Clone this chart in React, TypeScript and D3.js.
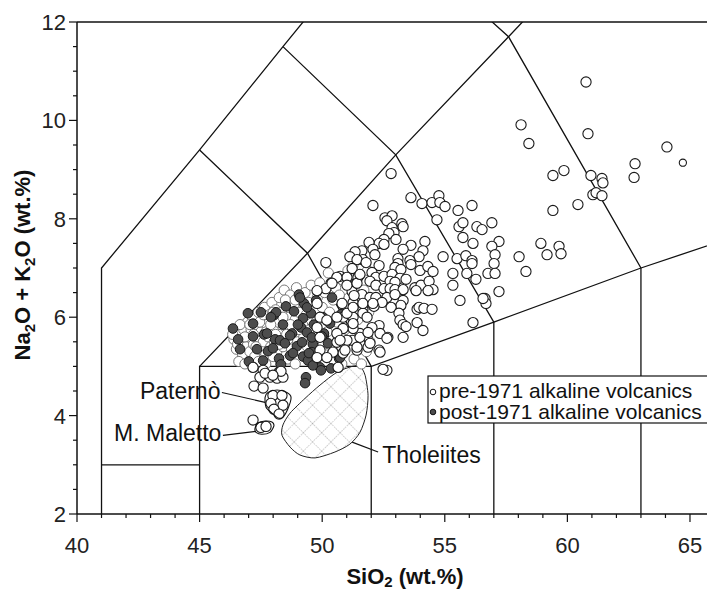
import React from 'react';
import * as d3 from 'd3';

type P = [number, number];

const xTicks = [40, 45, 50, 55, 60, 65];
const yTicks = [2, 4, 6, 8, 10, 12];

// TAS field boundaries (SiO2, Na2O+K2O)
const boundaries: P[][] = [
  [[41, 2], [41, 7], [45, 9.4], [48.4, 11.5], [52.5, 14]],
  [[41, 3], [45, 3]],
  [[45, 2], [45, 5], [52, 5]],
  [[45, 5], [49.4, 7.3], [53, 9.3], [57.6, 11.7], [61, 13.5]],
  [[52, 2], [52, 5], [57, 5.9], [63, 7], [69, 8]],
  [[57, 2], [57, 5.9]],
  [[63, 2], [63, 7]],
  [[45, 9.4], [49.4, 7.3], [52, 5]],
  [[48.4, 11.5], [53, 9.3], [57, 5.9]],
  [[52.5, 14], [57.6, 11.7], [63, 7]],
];

// dense core of pre-1971 samples
const preCore: P[] = [
  [46.4,5.55],[46.5,5.35],[46.6,5.7],[46.7,5.5],[46.75,5.25],[46.8,5.75],[46.9,5.4],[46.95,5.9],[47.0,5.6],[47.05,5.3],
  [47.1,5.75],[47.15,6.0],[47.2,5.45],[47.25,5.2],[47.3,5.85],[47.35,5.6],[47.4,6.1],[47.45,5.35],[47.5,5.7],[47.55,5.95],
  [47.6,5.5],[47.65,6.2],[47.7,5.25],[47.75,5.85],[47.8,5.6],[47.85,6.05],[47.9,5.4],[47.95,6.3],[48.0,5.75],[48.05,5.5],
  [48.1,6.15],[48.15,5.3],[48.2,5.9],[48.25,6.4],[48.3,5.65],[48.35,6.1],[48.4,5.4],[48.45,6.55],[48.5,5.8],[48.55,6.25],
  [48.6,5.55],[48.65,6.0],[48.7,6.45],[48.75,5.35],[48.8,5.7],[48.85,6.2],[48.9,5.95],[48.95,6.6],[49.0,5.5],[49.05,6.1],
  [49.1,5.3],[49.15,6.35],[49.2,5.85],[49.25,5.6],[49.3,6.5],[49.35,6.05],[49.4,5.4],[49.45,6.3],[49.5,5.75],[49.55,6.65],
  [49.6,5.55],[49.7,6.15],[49.75,5.9],[49.8,6.4],[49.85,5.25],[49.9,6.7],[50.0,6.2],[50.05,5.45],[50.1,6.5],[50.2,5.7],
  [50.25,6.9],[50.3,6.1],[50.4,5.35],[50.45,6.35],[50.5,5.1],[50.55,6.6],[50.6,5.9],[50.7,6.45],[50.8,5.05],[50.85,6.75],
  [50.9,6.25],[51.0,5.75],[51.05,6.95],[51.1,6.4],[51.2,5.6],[51.25,7.05],[51.3,5.15],[51.35,6.6],[51.45,5.95],[51.5,6.85],
  [51.6,5.05],[51.7,6.55],[51.8,5.3],[51.85,6.95],[51.9,6.1],[51.95,5.5],
  [46.6,5.1],[46.85,5.05],[47.1,5.05],[47.4,5.1],[47.7,5.05],[48.0,5.2],[48.3,5.05],[48.6,5.15],[48.9,5.05],
  [46.35,5.65],[46.55,5.45],[46.65,5.85],[46.85,5.6],[47.05,5.85],[47.2,5.65],[47.3,5.4],[47.45,5.9],[47.6,6.05],[47.7,5.7],
  [47.9,5.85],[48.0,6.1],[48.1,5.65],[48.25,5.45],[48.4,6.0],[48.5,6.35],[48.55,5.65],[48.7,5.85],[48.9,6.35],[49.05,5.75],
];

// other pre-1971 samples
const preData: P[] = [
  [60.76,10.78],[60.84,9.73],[64.06,9.46],[64.71,9.14],[62.76,9.12],[62.72,8.84],[58.11,9.91],[58.43,9.53],[59.86,8.98],
  [59.41,8.88],[60.96,8.88],[61.41,8.82],[61.45,8.73],[61.04,8.49],[61.17,8.53],[61.41,8.47],[60.43,8.29],[59.41,8.17],
  [58.03,7.23],[58.31,6.93],[58.92,7.5],[59.17,7.27],[59.66,7.44],[59.74,7.29],
  [52.81,8.92],[52.07,8.27],[53.62,8.43],[54.07,8.31],[54.48,8.33],[54.76,8.47],[54.8,8.33],[55.01,8.25],[55.54,8.17],
  [56.11,8.27],[54.68,7.98],[55.58,7.84],[55.74,7.92],[56.31,7.84],[56.52,7.78],[56.92,7.92],[55.74,7.62],[56.15,7.5],
  [57.21,7.54],[56.92,7.44],[57.05,7.27],[57.01,7.09],[56.76,6.89],[57.05,6.89],[54.93,7.23],[55.5,7.19],[55.86,7.25],
  [56.11,7.15],[56.11,7.09],[55.33,6.89],[55.9,6.89],[56.27,6.77],[55.33,6.65],[57.21,6.52],[55.62,6.34],[56.64,6.38],
  [56.68,6.28],[56.15,5.89],[56.56,6.38],
  [52.56,8.02],[52.85,8.06],[52.64,7.96],[53.25,7.9],[53.3,7.84],[52.85,7.82],[52.93,7.72],[52.72,7.7],[52.52,7.58],
  [53.01,7.58],[54.19,7.54],[53.62,7.46],[52.32,7.5],[51.91,7.52],[52.52,7.48],[53.3,7.38],[51.62,7.35],[51.34,7.33],
  [52.07,7.38],[52.15,7.27],[54.11,7.35],[53.95,7.23],[53.58,7.15],[53.09,7.19],[53.09,7.09],
  [50.15,7.11],[51.13,7.23],[51.66,7.17],[51.42,7.17],[51.22,6.99],[51.79,7.11],[52.32,7.05],[52.97,7.01],[53.21,6.97],
  [53.62,7.07],[53.99,6.95],[54.31,7.03],[54.52,6.93],[50.73,6.83],[51.01,6.81],[51.46,6.81],[52.03,6.91],[52.19,6.81],
  [52.52,6.83],[52.85,6.87],[53.17,6.79],[53.42,6.77],[52.77,6.73],[52.97,6.71],[51.95,6.73],[52.19,6.65],[52.52,6.58],
  [52.77,6.58],[52.97,6.56],[53.3,6.56],[53.78,6.6],[54.03,6.65],[54.36,6.73],[54.52,6.56],[54.32,6.54],[53.83,6.54],
  [50.36,6.69],[50.15,6.58],[51.22,6.52],[51.62,6.46],[51.95,6.4],[52.19,6.4],[52.64,6.4],[52.97,6.46],[53.3,6.34],
  [53.21,6.24],[52.44,6.3],[52.81,6.2],[52.11,6.22],[51.66,6.16],[51.26,6.3],[51.3,6.44],[53.87,6.16],[53.95,6.2],
  [54.15,6.18],[54.48,6.16],[53.87,5.89],[54.11,5.73],[53.13,6.08],[53.17,5.94],[53.3,5.85],[53.42,5.81],[53.3,5.59],
  [52.68,5.59],[52.32,5.83],[52.03,5.79],[51.83,5.59],[51.54,5.67],[51.26,5.77],[50.85,6.0],[51.26,6.0],[51.66,6.08],
  [50.81,6.28],[51.54,5.47],[51.22,5.53],[50.93,5.47],[50.6,5.49],[51.87,5.39],[52.32,5.33],[52.36,5.67],[52.64,5.57],
  [51.95,5.47],[51.42,5.33],[50.85,5.27],[52.36,5.29],[52.64,4.92],[52.48,4.94],
  [49.79,6.54],[50.6,6.81],[50.4,6.69],[51.01,6.65],[51.42,6.69],[51.54,6.87],[49.79,6.28],[49.91,6.0],[50.19,5.94],
  [50.6,6.0],[51.01,6.08],[51.26,6.2],[51.66,6.28],[52.07,6.28],[51.83,6.0],[51.26,5.87],[50.85,5.77],[50.6,5.67],
  [51.01,5.53],[51.54,5.59],[51.87,5.69],[51.42,5.39],[50.93,5.33],[50.44,5.29],[49.91,5.33],[49.79,5.18],[50.19,5.18],
  [50.65,4.98],[49.91,5.59],[49.79,5.79],[50.73,5.53],
  [47.18,4.98],[47.59,4.92],[47.87,4.78],[47.46,4.78],[48.16,4.76],[48.4,4.78],[48.32,4.9],[47.22,4.6],[47.59,4.56],
  [47.67,4.86],[47.99,4.82],
  [47.99,4.41],[48.36,4.41],[47.91,4.25],[48.4,4.21],[48.03,4.13],[48.24,4.03],
  [47.18,3.91],[47.5,3.76],[47.71,3.78],
];

// post-1971 samples
const postData: P[] = [
  [50.4,6.4],[50.77,6.06],[50.32,5.87],[50.07,5.63],
  [49.05,6.46],[49.26,6.28],[49.54,6.08],[48.52,6.22],[48.85,6.12],[49.22,5.98],[49.14,5.79],[49.38,5.69],[50.07,5.67],
  [50.24,5.47],[49.62,5.45],[49.58,5.59],[48.97,5.41],[49.22,5.2],[48.69,5.22],[49.42,5.12],[49.91,4.98],[50.36,4.96],
  [50.69,5.16],[48.24,5.16],[47.79,5.31],[47.34,5.35],[47.01,5.1],[46.65,5.35],[46.36,5.77],[46.97,6.08],[47.5,6.1],
  [48.03,6.04],[48.4,5.85],[47.63,5.65],[47.18,5.61],[48.08,5.55],[48.77,5.67],[49.09,6.4],[48.24,4.9],[49.34,4.78],
  [49.3,4.66],[51.13,6.69],[48.12,6.1],[47.59,5.12],[47.99,5.37],[48.32,5.04],[48.81,5.27],[49.58,5.29],[50.73,5.18],
  [49.38,6.2],[49.75,6.34],[49.66,5.85],[49.99,5.61],[50.03,6.0],[49.01,5.85],[48.69,5.63],[48.28,5.53],[47.75,5.67],
  [48.48,5.47],[49.18,5.49],[47.18,5.87],[47.91,6.0],[46.57,5.55],[49.95,4.92],[49.62,5.02],[49.46,5.27],
];

const tholeiites: P[] = [
  [51.22,5.0],[51.54,5.0],[51.75,4.82],[51.87,4.41],[51.79,4.01],[51.54,3.66],[51.13,3.42],[50.52,3.26],[49.71,3.14],
  [49.09,3.2],[48.69,3.36],[48.36,3.6],[48.4,3.81],[48.69,4.05],[49.3,4.35],[49.91,4.62],[50.6,4.88],
];
const paterno: P[] = [
  [47.67,4.37],[47.79,4.47],[48.16,4.52],[48.56,4.47],[48.73,4.37],[48.61,4.15],[48.4,3.97],[48.2,3.95],[47.95,4.05],[47.71,4.17],
];
const maletto: P[] = [
  [47.26,3.74],[47.38,3.85],[47.67,3.89],[47.95,3.87],[48.03,3.79],[47.87,3.66],[47.54,3.62],[47.3,3.66],
];
const leaders: P[][] = [
  [[45.91,4.47],[47.67,4.27]],
  [[45.95,3.6],[47.3,3.68]],
  [[51.22,3.46],[52.28,3.26]],
];

const FONT = "'Liberation Sans', Arial, Helvetica, sans-serif";

export default function App() {
  const W = 707, H = 591;
  const x = d3.scaleLinear().domain([40, 66]).range([77, 714.5]);
  const y = d3.scaleLinear().domain([2, 12]).range([514, 22]);
  const line = d3.line<P>().x(d => x(d[0])).y(d => y(d[1]));
  const blob = d3.line<P>().x(d => x(d[0])).y(d => y(d[1])).curve(d3.curveCardinalClosed.tension(0.2));
  const xMinor = d3.range(40, 67, 1);
  const yMinor = d3.range(2, 12.01, 0.5);
  const r = 5.1;
  return (
    <svg width={W} height={H} style={{ position: 'absolute', left: 0, top: 0, background: '#fff' }} fontFamily={FONT}>
      <defs>
        <clipPath id="plot"><rect x={77} y={22} width={640} height={492} /></clipPath>
        <pattern id="hatch" width={13} height={13} patternUnits="userSpaceOnUse" patternTransform="rotate(45)">
          <line x1={0} y1={0} x2={13} y2={0} stroke="#8a8a8a" strokeWidth={0.9} strokeDasharray="1.5,1" />
          <line x1={0} y1={0} x2={0} y2={13} stroke="#8a8a8a" strokeWidth={0.9} strokeDasharray="1.5,1" />
        </pattern>
      </defs>
      <rect x={0} y={0} width={W} height={H} fill="#fff" />
      <g clipPath="url(#plot)">
        {boundaries.map((b, i) => (
          <path key={i} d={line(b) || ''} fill="none" stroke="#111" strokeWidth={1.3} />
        ))}
        <path d={blob(tholeiites) || ''} fill="url(#hatch)" stroke="#222" strokeWidth={1} />
        {preCore.map((d, i) => (
          <circle key={'c' + i} cx={x(d[0])} cy={y(d[1])} r={r} fill="#fff" stroke="#6a6a6a" strokeWidth={0.9} />
        ))}
        {postData.map((d, i) => (
          <circle key={'q' + i} cx={x(d[0])} cy={y(d[1])} r={r - 0.3} fill="#4d4d4d" stroke="#1a1a1a" strokeWidth={1} />
        ))}
        {preData.map((d, i) => (
          <circle key={'p' + i} cx={x(d[0])} cy={y(d[1])} r={d[0] > 64.5 ? 3.6 : r} fill="#fff" stroke="#1a1a1a" strokeWidth={1.1} />
        ))}
        <path d={blob(paterno) || ''} fill="none" stroke="#111" strokeWidth={1.1} />
        <path d={blob(maletto) || ''} fill="none" stroke="#111" strokeWidth={1.1} />
        {leaders.map((l, i) => (
          <path key={'l' + i} d={line(l) || ''} fill="none" stroke="#111" strokeWidth={1.2} />
        ))}
      </g>
      {/* frame */}
      <line x1={77} y1={22} x2={W} y2={22} stroke="#111" strokeWidth={1.5} />
      <line x1={77} y1={22} x2={77} y2={514} stroke="#111" strokeWidth={1.5} />
      <line x1={77} y1={514} x2={W} y2={514} stroke="#111" strokeWidth={1.5} />
      {/* ticks */}
      {xMinor.map(v => (
        <line key={'xm' + v} x1={x(v)} x2={x(v)} y1={514} y2={514 + (v % 5 === 0 ? 8 : 4)} stroke="#111" strokeWidth={1.2} />
      ))}
      {yMinor.map(v => (
        <line key={'ym' + v} x1={77} x2={77 - (v % 2 === 0 ? 8 : 4)} y1={y(v)} y2={y(v)} stroke="#111" strokeWidth={1.2} />
      ))}
      {xTicks.map(v => (
        <text key={'xt' + v} x={x(v)} y={553} textAnchor="middle" fontSize={22} fill="#222">{v}</text>
      ))}
      {yTicks.map(v => (
        <text key={'yt' + v} x={66} y={y(v) + 8} textAnchor="end" fontSize={22} fill="#222">{v}</text>
      ))}
      {/* axis titles */}
      <text x={405} y={584} textAnchor="middle" fontSize={22} fontWeight="bold" fill="#111">
        SiO<tspan dy={3} fontSize={15}>2</tspan><tspan dy={-3}> (wt.%)</tspan>
      </text>
      <text transform="translate(30,265) rotate(-90)" textAnchor="middle" fontSize={22} fontWeight="bold" fill="#111">
        Na<tspan dy={5} fontSize={15}>2</tspan><tspan dy={-5}>O + K</tspan><tspan dy={5} fontSize={15}>2</tspan><tspan dy={-5}>O (wt.%)</tspan>
      </text>
      {/* labels */}
      <text x={x(45.85)} y={y(4.33)} textAnchor="end" fontSize={23} fill="#111">Paternò</text>
      <text x={x(45.89)} y={y(3.48)} textAnchor="end" fontSize={23} fill="#111">M. Maletto</text>
      <text x={x(52.45)} y={y(3.03)} textAnchor="start" fontSize={23} fill="#111">Tholeiites</text>
      {/* legend */}
      <rect x={428} y={376} width={300} height={47} fill="#fff" stroke="#111" strokeWidth={1.2} />
      <circle cx={433} cy={392} r={2.8} fill="#fff" stroke="#111" strokeWidth={1} />
      <circle cx={433} cy={412} r={2.8} fill="#4d4d4d" stroke="#111" strokeWidth={1} />
      <text x={439} y={398} fontSize={21} fill="#111">pre-1971 alkaline volcanics</text>
      <text x={439} y={419} fontSize={21} fill="#111">post-1971 alkaline volcanics</text>
    </svg>
  );
}
